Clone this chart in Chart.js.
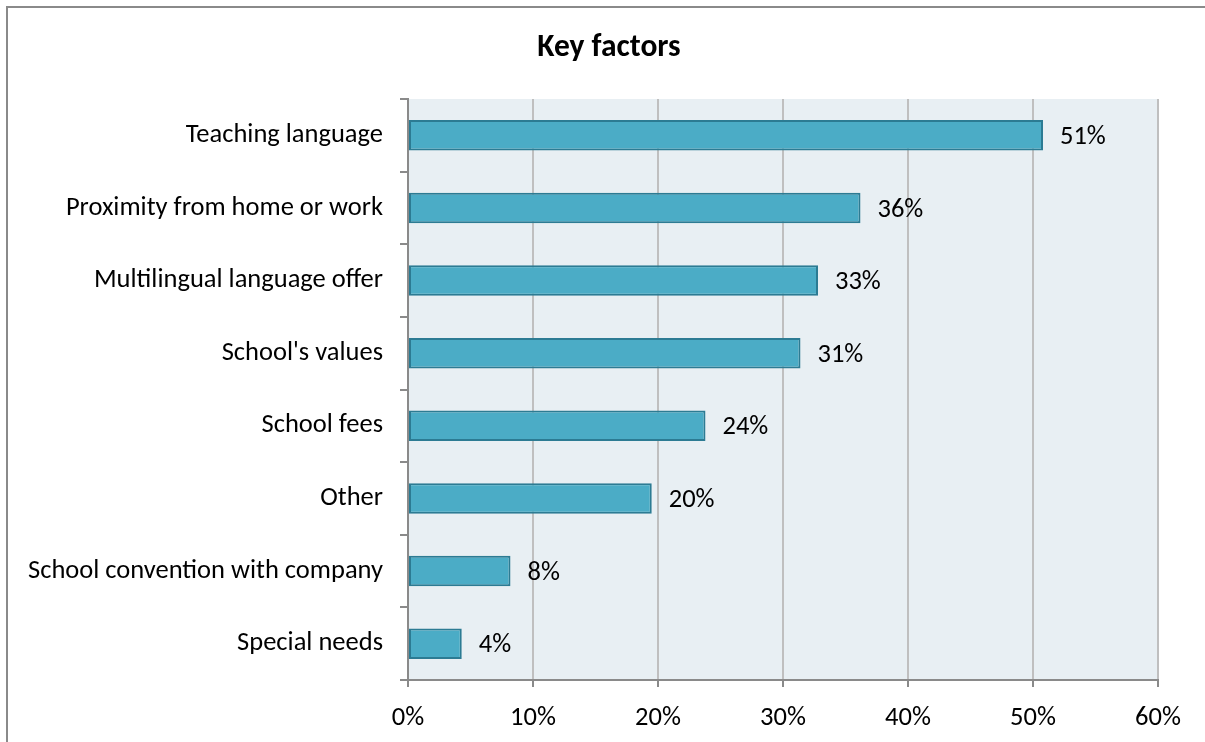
<!DOCTYPE html>
<html>
<head>
<meta charset="utf-8">
<script src="https://cdn.jsdelivr.net/npm/chart.js@4/dist/chart.umd.min.js"></script>
<style>
  html, body { margin: 0; padding: 0; background: #ffffff; }
  #wrap { width: 1205px; height: 742px; }
</style>
</head>
<body>
<div id="wrap"><canvas id="factors" width="1205" height="742"></canvas></div>
<script>
const factorLabels = [
    'Teaching language',
    'Proximity from home or work',
    'Multilingual language offer',
    "School's values",
    'School fees',
    'Other',
    'School convention with company',
    'Special needs'
];
const factorShares = [50.8, 36.2, 32.8, 31.4, 23.8, 19.5, 8.2, 4.3];
const shareTicks = [0, 10, 20, 30, 40, 50, 60];
const chartTitle = 'Key factors';

const FONT = "Carlito, Calibri, Lato, sans-serif";

// grey frame along the top and left edges, the plot background and the title
const frameAndBackground = {
    id: 'frameAndBackground',
    beforeDraw(chart) {
        const ctx = chart.ctx;
        const a = chart.chartArea;
        ctx.save();
        ctx.fillStyle = '#ffffff';
        ctx.fillRect(0, 0, chart.width, chart.height);
        ctx.fillStyle = '#e8eff3';
        ctx.fillRect(a.left, a.top, a.right - a.left, a.bottom - a.top);
        ctx.strokeStyle = '#8a8a8a';
        ctx.lineWidth = 2;
        ctx.beginPath();
        ctx.moveTo(7, chart.height);
        ctx.lineTo(7, 7);
        ctx.lineTo(chart.width, 7);
        ctx.stroke();

        ctx.font = 'bold 31.5px ' + FONT;
        ctx.fillStyle = '#000000';
        ctx.textAlign = 'center';
        ctx.textBaseline = 'middle';
        ctx.fillText(chartTitle, 609, 48);
        ctx.restore();
    }
};

// percentage label to the right of each bar
const valueLabels = {
    id: 'valueLabels',
    afterDatasetsDraw(chart) {
        const ctx = chart.ctx;
        const meta = chart.getDatasetMeta(0);
        ctx.save();
        ctx.font = '26.5px ' + FONT;
        ctx.fillStyle = '#000000';
        ctx.textAlign = 'left';
        ctx.textBaseline = 'middle';
        meta.data.forEach((bar, i) => {
            ctx.fillText(Math.round(factorShares[i]) + '%', bar.x + 17, bar.y + 2);
        });
        ctx.restore();
    }
};

new Chart(document.getElementById('factors'), {
    type: 'bar',
    data: {
        labels: factorLabels,
        datasets: [{
            data: factorShares,
            backgroundColor: '#4bacc6',
            borderColor: '#2c7b93',
            borderWidth: 2,
            borderSkipped: false,
            categoryPercentage: 1,
            barPercentage: 0.42
        }]
    },
    options: {
        indexAxis: 'y',
        responsive: false,
        animation: false,
        events: [],
        layout: { padding: { left: 0, right: 47, top: 99, bottom: 0 } },
        plugins: {
            legend: { display: false },
            tooltip: { enabled: false },
            title: { display: false }
        },
        scales: {
            x: {
                min: 0,
                max: 60,
                afterBuildTicks(scale) {
                    scale.ticks = shareTicks.map(v => ({ value: v }));
                },
                afterFit(scale) { scale.height = 62; },
                grid: {
                    color: '#bfbfbf',
                    lineWidth: 2,
                    drawTicks: true,
                    tickLength: 7,
                    tickColor: '#8a8a8a'
                },
                border: { display: true, color: '#8a8a8a', width: 2 },
                ticks: {
                    color: '#000000',
                    font: { family: FONT, size: 26.5 },
                    padding: 15,
                    callback: v => v + '%'
                }
            },
            y: {
                afterFit(scale) { scale.width = 408; },
                grid: {
                    drawOnChartArea: false,
                    drawTicks: true,
                    tickLength: 8,
                    color: '#8a8a8a',
                    lineWidth: 2,
                    offset: true
                },
                border: { display: true, color: '#8a8a8a', width: 2 },
                ticks: {
                    color: '#000000',
                    font: { family: FONT, size: 26.5 },
                    padding: 17
                }
            }
        }
    },
    plugins: [frameAndBackground, valueLabels]
});
</script>
</body>
</html>
